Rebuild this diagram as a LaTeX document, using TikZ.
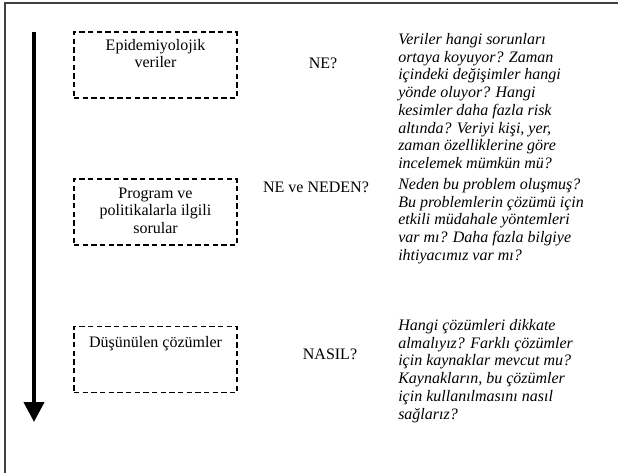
\documentclass[tikz,border=0pt]{standalone}
\usepackage{fontspec}
\setmainfont{Liberation Serif}
\usetikzlibrary{arrows.meta,positioning}

\begin{document}
\begin{tikzpicture}[x=0.75pt, y=-0.75pt,
	every node/.style={font=\fontsize{12}{13}\selectfont},
	box/.style={draw, line width=1pt, dash pattern=on 4pt off 2.5pt, minimum width=122.25pt, minimum height=49.5pt, inner sep=0pt},
	boxtext/.style={align=center, inner sep=0pt},
	ask/.style={inner sep=0pt},
	note/.style={font=\fontsize{12}{13.3}\selectfont\itshape, align=left, anchor=north west, inner sep=0pt},
	>={Triangle[length=15pt, width=15pt]}]
	\useasboundingbox (0,0) rectangle (618,472);
	\draw[line width=1.2pt, black!75] (622,3) -- (5,3) -- (5,476);
	% time axis
	\coordinate (start) at (34,32);
	\coordinate (end) at (34,422);
	\draw[->, line width=3pt] (start) -- (end);
	% boxes
	\node[box] (epi) at (155.5,65) {};
	\node[box] (prog) at (155.5,212) {};
	\node[box] (sol) at (155.5,359.5) {};
	\node[boxtext, below=5.5pt of epi.north] (epitxt) {Epidemiyolojik\\veriler};
	\node[boxtext, below=7pt of prog.north] (progtxt) {Program ve\\politikalarla ilgili\\sorular};
	\node[boxtext, below=8pt of sol.north] (soltxt) {Düşünülen çözümler};
	% questions
	\node[ask] (ne) at (323,63) {NE?};
	\node[ask] (neden) at (316,187) {NE ve NEDEN?};
	\node[ask] (nasil) at (330,354) {NASIL?};
	% notes
	\node[note] (epinote) at (398,33) {Veriler hangi sorunları\\ortaya koyuyor? Zaman\\içindeki değişimler hangi\\yönde oluyor? Hangi\\kesimler daha fazla risk\\altında? Veriyi kişi, yer,\\zaman özelliklerine göre\\incelemek mümkün mü?};
	\node[note] (prognote) at (398,178) {Neden bu problem oluşmuş?\\Bu problemlerin çözümü için\\etkili müdahale yöntemleri\\var mı? Daha fazla bilgiye\\ihtiyacımız var mı?};
	\node[note] (solnote) at (398,319) {Hangi çözümleri dikkate\\almalıyız? Farklı çözümler\\için kaynaklar mevcut mu?\\Kaynakların, bu çözümler\\için kullanılmasını nasıl\\sağlarız?};
\end{tikzpicture}
\end{document}
